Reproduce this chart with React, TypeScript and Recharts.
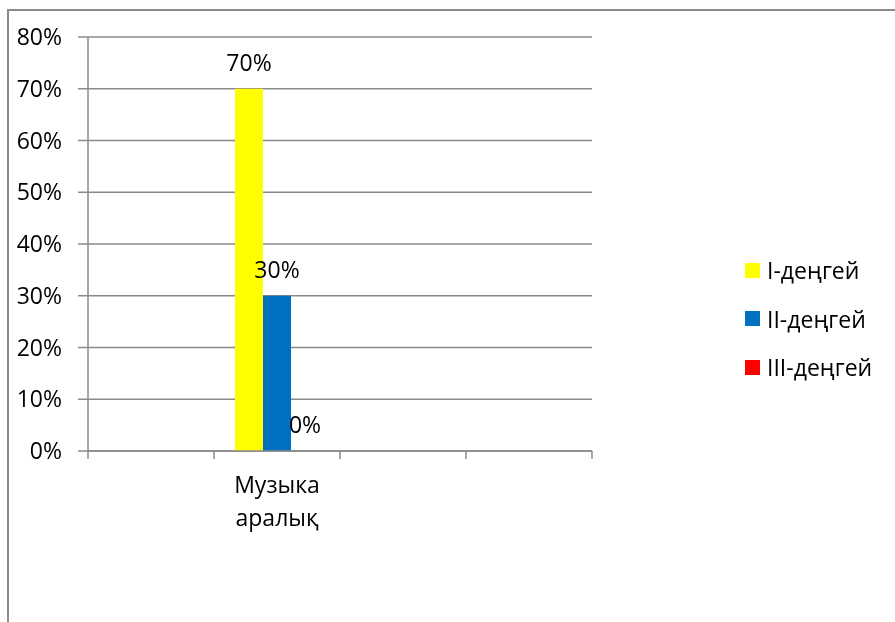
import React from 'react';
import { BarChart, Bar, XAxis, YAxis, CartesianGrid, Legend, LabelList } from 'recharts';

const categories = ['', 'Музыка аралық', '', ''];
const level1 = [null, 0.7, null, null];
const level2 = [null, 0.3, null, null];
const level3 = [null, 0, null, null];
const seriesNames = ['I-деңгей', 'II-деңгей', 'III-деңгей'];
const yTicks = [0, 0.1, 0.2, 0.3, 0.4, 0.5, 0.6, 0.7, 0.8];

const data = categories.map((name, i) => ({
  name,
  s1: level1[i],
  s2: level2[i],
  s3: level3[i],
}));

const FONT = '"Open Sans", "Noto Sans", sans-serif';
const FS = 23;
const GRAY = '#8a8a8a';
const pct = (v: any) => (v === null || v === undefined ? '' : `${Math.round(Number(v) * 100)}%`);

const XTick = (props: any) => {
  const { x, y, payload, visibleTicksCount } = props;
  const off = payload && payload.offset ? payload.offset : 63;
  const lines = String(payload.value || '').split(' ').filter((s: string) => s.length > 0);
  const isLast = payload.index === (visibleTicksCount ? visibleTicksCount - 1 : 3);
  return (
    <g>
      <line x1={x - off} y1={y} x2={x - off} y2={y + 8} stroke={GRAY} strokeWidth={1.5} />
      {isLast && <line x1={x + off} y1={y} x2={x + off} y2={y + 8} stroke={GRAY} strokeWidth={1.5} />}
      <text x={x} y={y} textAnchor="middle" fontSize={FS} fontFamily={FONT} fill="#000">
        {lines.map((l: string, i: number) => (
          <tspan key={i} x={x} y={y + 42 + i * 33}>{l}</tspan>
        ))}
      </text>
    </g>
  );
};

const ValueLabel = (props: any) => {
  const { x, y, width, height, value } = props;
  if (value === null || value === undefined || x === undefined || y === undefined) return null;
  const top = Math.min(Number(y), Number(y) + Number(height || 0));
  return (
    <text x={Number(x) + Number(width) / 2} y={top - 18} textAnchor="middle" fontSize={FS} fontFamily={FONT} fill="#000">
      {pct(value)}
    </text>
  );
};

const renderLegend = (props: any) => {
  const { payload } = props;
  return (
    <div style={{ fontFamily: FONT, fontSize: FS, color: '#000' }}>
      {(payload || []).map((p: any, i: number) => (
        <div key={i} style={{ display: 'flex', alignItems: 'center', height: 48.5 }}>
          <div style={{ width: 15, height: 15, background: p.color, marginRight: 7 }} />
          <span>{p.value}</span>
        </div>
      ))}
    </div>
  );
};

export default function App() {
  return (
    <div style={{ fontFamily: FONT }}>
      <div
        style={{
          position: 'fixed',
          left: 7,
          top: 9,
          width: 2000,
          height: 2000,
          borderLeft: `2px solid ${GRAY}`,
          borderTop: `2px solid ${GRAY}`,
          pointerEvents: 'none',
        }}
      />
      <BarChart
        width={887}
        height={606}
        data={data}
        margin={{ top: 29, right: 303, left: 0, bottom: 0 }}
        barGap={0}
      >
        <CartesianGrid vertical={false} stroke={GRAY} strokeWidth={1.5} />
        <XAxis
          dataKey="name"
          height={163}
          axisLine={{ stroke: GRAY, strokeWidth: 1.5 }}
          tickLine={false}
          tickSize={0}
          tickMargin={0}
          interval={0}
          tick={<XTick />}
        />
        <YAxis
          width={80}
          domain={[0, 0.8]}
          ticks={yTicks}
          tickFormatter={pct}
          axisLine={{ stroke: GRAY, strokeWidth: 1.5 }}
          tickLine={{ stroke: GRAY, strokeWidth: 1.5 }}
          tickSize={10}
          tickMargin={16}
          tick={{ fontSize: FS, fontFamily: FONT, fill: '#000' }}
        />
        <Legend
          layout="vertical"
          align="center"
          verticalAlign="middle"
          content={renderLegend}
          wrapperStyle={{ left: 737, top: 238, width: 150 }}
        />
        <Bar dataKey="s1" name={seriesNames[0]} fill="#FFFF00" barSize={28} isAnimationActive={false}>
          <LabelList dataKey="s1" content={<ValueLabel />} />
        </Bar>
        <Bar dataKey="s2" name={seriesNames[1]} fill="#0070C0" barSize={28} isAnimationActive={false}>
          <LabelList dataKey="s2" content={<ValueLabel />} />
        </Bar>
        <Bar dataKey="s3" name={seriesNames[2]} fill="#FF0000" barSize={28} minPointSize={0.01} isAnimationActive={false}>
          <LabelList dataKey="s3" content={<ValueLabel />} />
        </Bar>
      </BarChart>
    </div>
  );
}
